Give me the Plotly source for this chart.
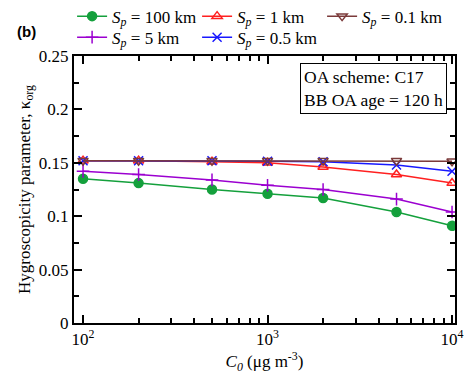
import plotly.graph_objects as go

c0 = [100, 200, 500, 1000, 2000, 5000, 10000]
k_100km = [0.135, 0.131, 0.125, 0.121, 0.117, 0.104, 0.091]
k_5km = [0.142, 0.139, 0.134, 0.129, 0.125, 0.116, 0.104]
k_1km = [0.152, 0.152, 0.151, 0.150, 0.146, 0.139, 0.131]
k_05km = [0.152, 0.152, 0.152, 0.1515, 0.151, 0.148, 0.142]
k_01km = [0.152, 0.152, 0.152, 0.152, 0.152, 0.152, 0.1515]

x_major = [100, 1000, 10000]
x_major_labels = ["10<sup>2</sup>", "10<sup>3</sup>", "10<sup>4</sup>"]
x_minor = [m * d for d in (100, 1000) for m in range(2, 10)]
y_major = [0, 0.05, 0.1, 0.15, 0.2, 0.25]
y_major_labels = ["0", "0.05", "0.1", "0.15", "0.2", "0.25"]
y_minor = [0.025, 0.075, 0.125, 0.175, 0.225]

series = [
    # name, values, color, symbol, legendrank, legend row
    ("<i>S<sub>p</sub></i> = 100 km", k_100km, "#14a03c", "circle", 1, "legend"),
    ("<i>S<sub>p</sub></i> = 5 km", k_5km, "#9b00d0", "cross-thin-open", 4, "legend2"),
    ("<i>S<sub>p</sub></i> = 1 km", k_1km, "#ff2020", "triangle-up-open", 2, "legend"),
    ("<i>S<sub>p</sub></i> = 0.5 km", k_05km, "#1818ff", "x-thin-open", 5, "legend2"),
    ("<i>S<sub>p</sub></i> = 0.1 km", k_01km, "#7b3a3a", "triangle-down-open", 3, "legend"),
]

fig = go.Figure()
for name, vals, col, sym, rank, leg in series:
    fig.add_trace(go.Scatter(
        x=c0, y=vals, name=name, mode="lines+markers",
        line=dict(color=col, width=1.5),
        marker=dict(symbol=sym, size=9, color=col, line=dict(color=col, width=1.5)),
        legendrank=rank, legend=leg,
    ))

font = "Liberation Serif"
fs = 17
leg_common = dict(orientation="h", x=-0.005, xref="paper", yref="paper",
                  xanchor="left", yanchor="top", entrywidth=80,
                  font=dict(family=font, size=fs), tracegroupgap=0,
                  itemwidth=30, bgcolor="rgba(0,0,0,0)")
fig.update_layout(
    width=465, height=374,
    margin=dict(l=74, r=10, t=56, b=51, autoexpand=False),
    paper_bgcolor="white", plot_bgcolor="white",
    font=dict(family=font, size=fs, color="black"),
    legend=dict(y=1.215, **leg_common),
    legend2=dict(y=1.1363, **leg_common),
    showlegend=True,
)
fig.update_xaxes(
    type="log", range=[1.951, 4.016],
    tickvals=x_major, ticktext=x_major_labels,
    ticks="inside", ticklen=8, tickwidth=1.5, tickcolor="black",
    minor=dict(tickvals=x_minor, ticks="inside", ticklen=5, tickwidth=1.5,
               tickcolor="black", showgrid=False),
    showline=True, linecolor="black", linewidth=2, mirror="allticks",
    showgrid=False, zeroline=False,
    title=dict(text="<i>C<sub>0</sub></i> (μg m<sup>-3</sup>)", standoff=2,
               font=dict(family=font, size=fs)),
    tickfont=dict(family=font, size=fs),
)
fig.update_yaxes(
    range=[0, 0.25], tickvals=y_major, ticktext=y_major_labels,
    ticks="inside", ticklen=8, tickwidth=1.5, tickcolor="black",
    minor=dict(tickvals=y_minor, ticks="inside", ticklen=5, tickwidth=1.5,
               tickcolor="black", showgrid=False),
    showline=True, linecolor="black", linewidth=2, mirror="allticks",
    showgrid=False, zeroline=False,
    title=dict(text="Hygroscopicity parameter, κ<sub>org</sub>", standoff=4,
               font=dict(family=font, size=fs)),
    tickfont=dict(family=font, size=fs),
)
fig.add_annotation(
    text="<b>(b)</b>", xref="paper", yref="paper", x=-0.155, y=1.09,
    xanchor="left", yanchor="middle", showarrow=False,
    font=dict(family="Liberation Sans", size=15, color="black"),
)
fig.add_annotation(
    text="OA scheme: C17<br>BB OA age = 120 h", xref="paper", yref="paper",
    x=0.979, y=0.974, xanchor="right", yanchor="top", align="left",
    showarrow=False, bordercolor="black", borderwidth=1, borderpad=3,
    bgcolor="white", font=dict(family=font, size=17.5, color="black"),
)
fig.write_html("out.html")
